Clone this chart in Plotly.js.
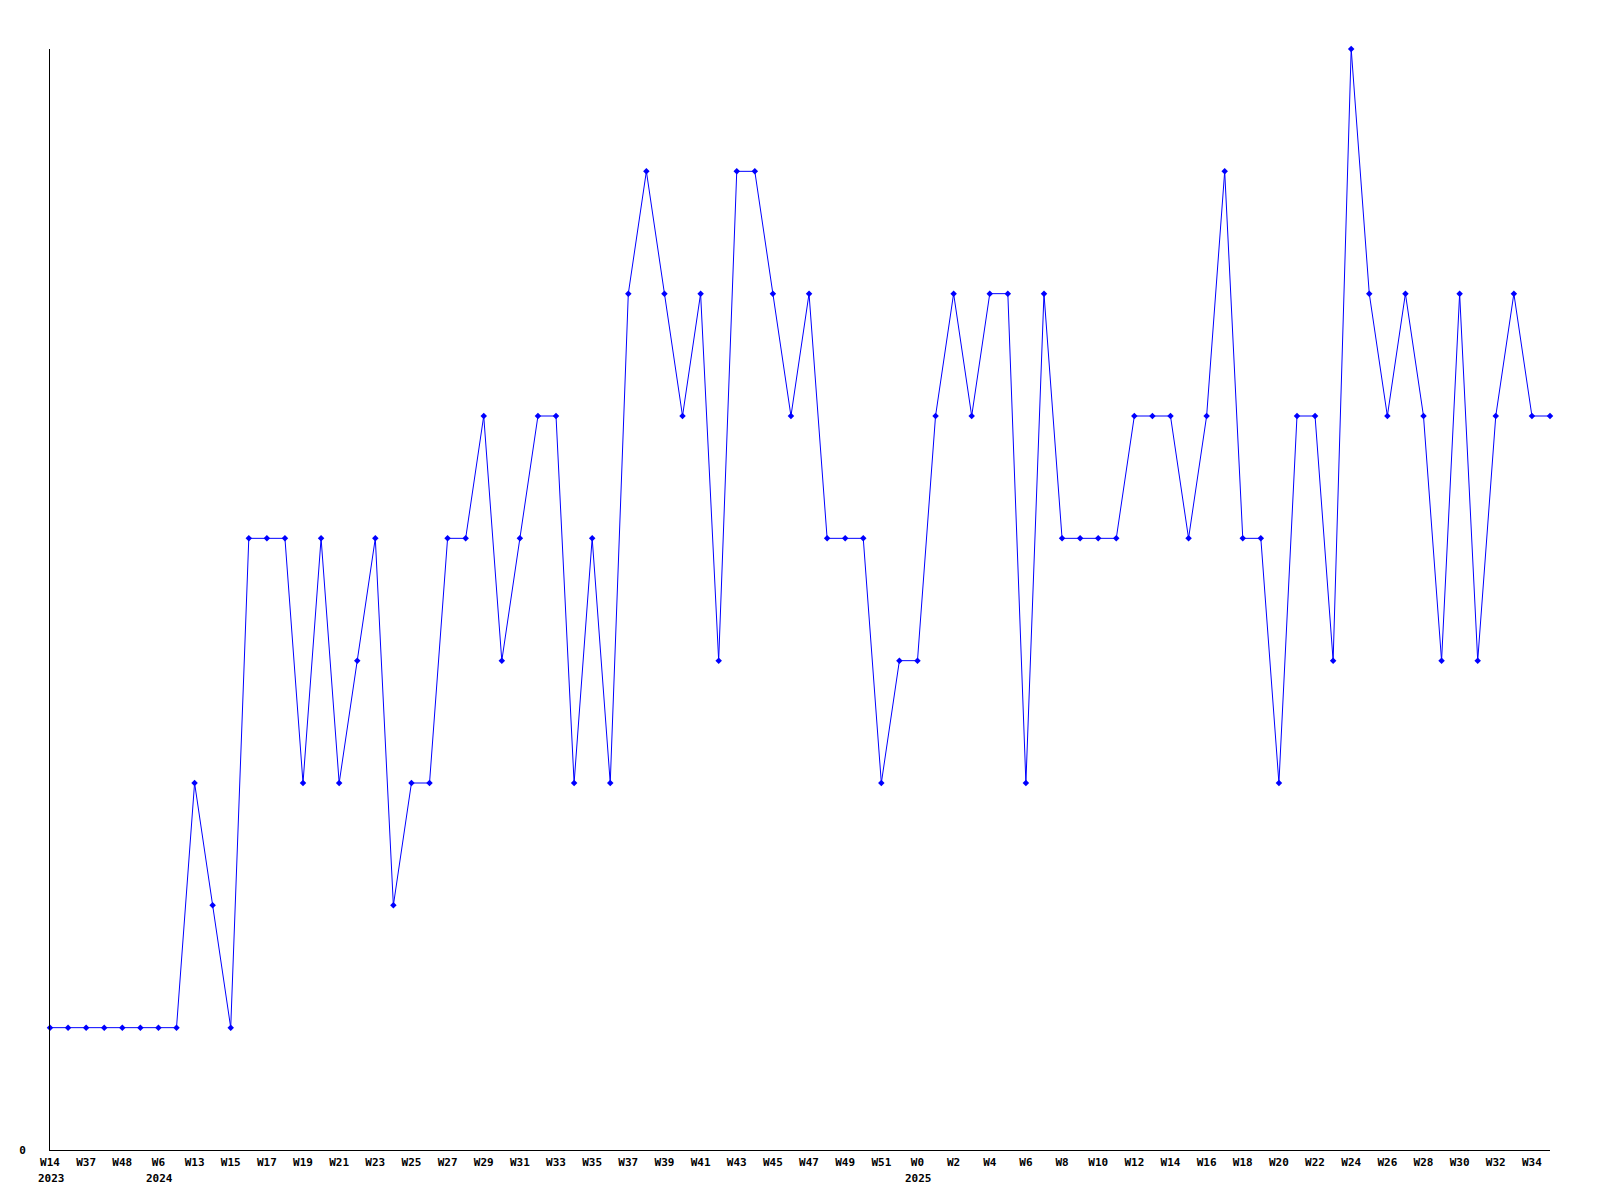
<!DOCTYPE html>
<html>
<head>
<meta charset="utf-8">
<script src="https://cdn.plot.ly/plotly-3.0.1.min.js"></script>
<style>html,body{margin:0;padding:0;background:#fff;}#chart{width:1600px;height:1200px;}</style>
</head>
<body>
<div id="chart"></div>
<script>
// Week labels for each point (odd-position labels are not shown on the axis)
const weeks = [
  "W14","W30","W37","W44","W48","W52","W6","W10",
  "W13","W14","W15","W16","W17","W18","W19","W20",
  "W21","W22","W23","W24","W25","W26","W27","W28",
  "W29","W30","W31","W32","W33","W34","W35","W36",
  "W37","W38","W39","W40","W41","W42","W43","W44",
  "W45","W46","W47","W48","W49","W50","W51","W52",
  "W0","W1","W2","W3","W4","W5","W6","W7",
  "W8","W9","W10","W11","W12","W13","W14","W15",
  "W16","W17","W18","W19","W20","W21","W22","W23",
  "W24","W25","W26","W27","W28","W29","W30","W31",
  "W32","W33","W34","W35"
];
const values = [
  1,1,1,1,1,1,1,1,
  3,2,1,5,5,5,3,5,
  3,4,5,2,3,3,5,5,
  6,4,5,6,6,3,5,3,
  7,8,7,6,7,4,8,8,
  7,6,7,5,5,5,3,4,
  4,6,7,6,7,7,3,7,
  5,5,5,5,6,6,6,5,
  6,8,5,5,3,6,6,4,
  9,7,6,7,6,4,7,4,
  6,7,6,6
];
const yearIndex = [0, 6, 48];
const yearLabels = ["2023", "2024", "2025"];

const xs = weeks.map((_, i) => i);
const tickvals = xs.filter(i => i % 2 === 0);
const ticktext = tickvals.map(i => weeks[i]);

const font = {family: "DejaVu Sans Mono, Liberation Mono, monospace", size: 11, color: "#000"};

const trace = {
  x: xs, y: values, type: "scatter", mode: "lines+markers",
  line: {color: "#0000ff", width: 1},
  marker: {color: "#0000ff", symbol: "diamond", size: 5},
  cliponaxis: false,
  hoverinfo: "skip"
};

const annotations = yearIndex.map((idx, k) => ({
  x: idx, y: 0, xref: "x", yref: "paper",
  text: "<b>" + yearLabels[k] + "</b>", showarrow: false,
  xanchor: "left", yanchor: "top", xshift: -14, yshift: -20,
  font: font
}));

const layout = {
  width: 1600, height: 1200,
  margin: {l: 50, r: 50, t: 49, b: 50},
  paper_bgcolor: "#fff", plot_bgcolor: "#fff",
  showlegend: false,
  xaxis: {
    range: [0, xs.length - 1], showgrid: false, zeroline: false,
    showline: true, linecolor: "#000", linewidth: 1,
    tickmode: "array", tickvals: tickvals,
    ticktext: ticktext.map(t => "<b>" + t + "</b>"),
    ticks: "", tickfont: font, ticklabelstandoff: 2, fixedrange: true
  },
  yaxis: {
    range: [0, 9], showgrid: false, zeroline: false,
    showline: true, linecolor: "#000", linewidth: 1,
    tickmode: "array", tickvals: [0], ticktext: ["<b>0</b>"],
    ticks: "", tickfont: font, ticklabelstandoff: 21, fixedrange: true
  },
  annotations: annotations
};

Plotly.newPlot("chart", [trace], layout, {staticPlot: true});
</script>
</body>
</html>
